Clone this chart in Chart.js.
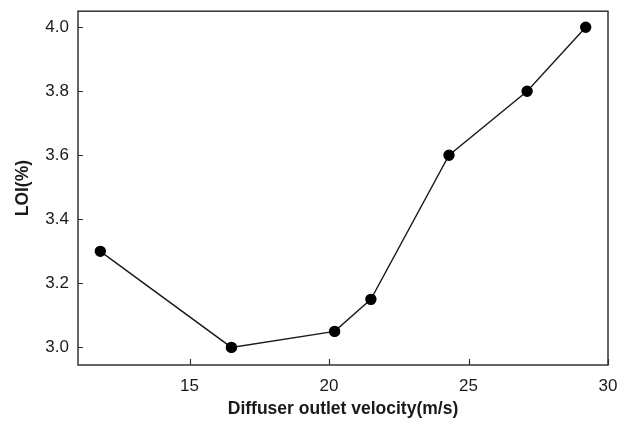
<!DOCTYPE html>
<html>
<head>
<meta charset="utf-8">
<script src="https://cdn.jsdelivr.net/npm/chart.js@4"></script>
<style>
  html, body { margin: 0; padding: 0; background: #fff; }
  #wrap { width: 626px; height: 425px; position: relative; }
</style>
</head>
<body>
<div id="wrap"><canvas id="loiChart" width="626" height="425"></canvas></div>
<script>
const velocity = [11.8, 16.5, 20.2, 21.5, 24.3, 27.1, 29.2];
const loi = [3.3, 3.0, 3.05, 3.15, 3.6, 3.8, 4.0];
const xTicks = [15, 20, 25, 30];
const yTicks = [3.0, 3.2, 3.4, 3.6, 3.8, 4.0];

const ink = '#1a1a1a';
const axisFont = { family: 'Liberation Sans, Arial, sans-serif', size: 17 };
const titleFont = { family: 'Liberation Sans, Arial, sans-serif', size: 17.5, weight: 'bold' };

// frame around the plot + inward tick marks, like the original figure
const framePlugin = {
  id: 'frame',
  afterDraw(chart) {
    const { ctx, chartArea: a, scales } = chart;
    ctx.save();
    ctx.strokeStyle = '#333';
    ctx.lineWidth = 1.5;
    ctx.strokeRect(a.left, a.top, a.right - a.left, a.bottom - a.top);
    ctx.lineWidth = 1.2;
    ctx.beginPath();
    yTicks.forEach(v => {
      const y = Math.round(scales.y.getPixelForValue(v)) + 0.5;
      ctx.moveTo(a.left, y);
      ctx.lineTo(a.left + 5, y);
    });
    xTicks.forEach(v => {
      const x = Math.round(scales.x.getPixelForValue(v)) + 0.5;
      ctx.moveTo(x, a.bottom);
      ctx.lineTo(x, a.bottom - 6);
    });
    ctx.stroke();
    ctx.restore();
  }
};

const ctx = document.getElementById('loiChart').getContext('2d');
new Chart(ctx, {
  type: 'scatter',
  data: {
    datasets: [{
      data: velocity.map((v, i) => ({ x: v, y: loi[i] })),
      showLine: true,
      borderColor: ink,
      borderWidth: 1.4,
      pointBackgroundColor: '#000',
      pointBorderColor: '#000',
      pointRadius: 5,
      tension: 0
    }]
  },
  options: {
    responsive: false,
    animation: false,
    layout: { padding: { top: 10, right: 18, left: 0, bottom: 0 } },
    plugins: { legend: { display: false }, tooltip: { enabled: false } },
    scales: {
      x: {
        type: 'linear',
        min: 11,
        max: 30,
        afterBuildTicks: s => { s.ticks = xTicks.map(v => ({ value: v })); },
        afterFit: s => { s.height = 60; },
        grid: { display: false },
        border: { display: false },
        ticks: { color: ink, font: axisFont, padding: 3 },
        title: {
          display: true,
          text: 'Diffuser outlet velocity(m/s)',
          color: ink,
          font: titleFont,
          padding: { top: 0, bottom: 5.5 }
        }
      },
      y: {
        min: 2.945,
        max: 4.05,
        afterBuildTicks: s => { s.ticks = yTicks.map(v => ({ value: v })); },
        afterFit: s => { s.width = 78; },
        grid: { display: false },
        border: { display: false },
        ticks: { color: ink, font: axisFont, padding: 1, callback: v => v.toFixed(1) },
        title: {
          display: true,
          text: 'LOI(%)',
          color: ink,
          font: titleFont,
          padding: { top: 12.5, bottom: 0 }
        }
      }
    }
  },
  plugins: [framePlugin]
});
</script>
</body>
</html>
